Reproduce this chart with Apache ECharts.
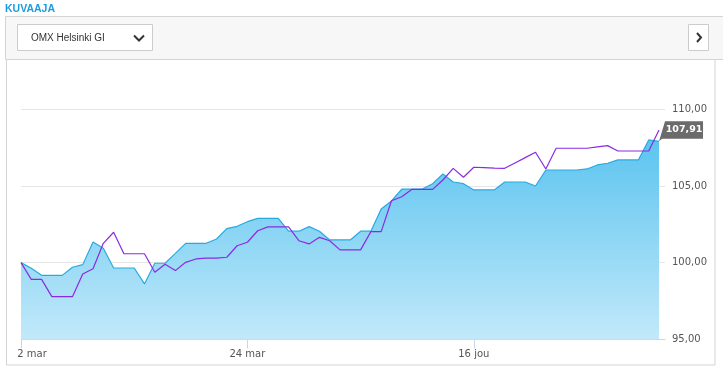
<!DOCTYPE html>
<html>
<head>
<meta charset="utf-8">
<script src="https://cdn.jsdelivr.net/npm/echarts@6/dist/echarts.min.js"></script>
<style>
html,body{margin:0;padding:0;background:#fff;}
#c{width:723px;height:372px;}
</style>
</head>
<body>
<div id="c"></div>
<script>
// ---- data ----
var title = 'KUVAAJA';
var selectorLabel = 'OMX Helsinki GI';
var xTickIndex = [0, 22, 44];
var xTickLabels = ['2 mar', '24 mar', '16 jou'];
var yTicks = [95, 100, 105, 110];
var indexValues = [
  100.0, 99.63, 99.17, 99.17, 99.17, 99.70, 99.87, 101.35, 100.94, 99.65,
  99.65, 99.65, 98.61, 99.96, 99.96, 100.6, 101.26, 101.26, 101.26, 101.54,
  102.22, 102.37, 102.67, 102.89, 102.89, 102.89, 102.05, 102.05, 102.35, 102.05,
  101.48, 101.48, 101.48, 102.05, 102.05, 103.5, 104.02, 104.8, 104.8, 104.8,
  105.15, 105.78, 105.26, 105.15, 104.74, 104.74, 104.74, 105.26, 105.26, 105.26,
  105.0, 106.04, 106.04, 106.04, 106.04, 106.11, 106.37, 106.48, 106.7, 106.7,
  106.7, 108.0, 107.91
];
var compareValues = [
  100.0, 98.91, 98.91, 97.78, 97.78, 97.78, 99.26, 99.6, 101.26, 101.98,
  100.58, 100.58, 100.58, 99.37, 99.89, 99.48, 100.02, 100.24, 100.3, 100.3,
  100.35, 101.1, 101.33, 102.08, 102.33, 102.33, 102.33, 101.43, 101.22, 101.65,
  101.43, 100.83, 100.83, 100.83, 102.02, 102.02, 104.04, 104.3, 104.78, 104.78,
  104.78, 105.39, 106.15, 105.57, 106.22, 106.2, 106.17, 106.15, 106.5, 106.85,
  107.2, 106.11, 107.46, 107.46, 107.46, 107.46, 107.55, 107.63, 107.28, 107.28,
  107.28, 107.28, 108.65
];

function fmt(v) { return v.toFixed(2).replace('.', ','); }
function pairs(arr) { return arr.map(function (v, i) { return [i, v]; }); }

var chart = echarts.init(document.getElementById('c'), null, {renderer: 'canvas'});
var lastIdx = indexValues.length - 1;

var baseGraphics = [
  {type: 'text', z: -5, left: 5, top: 4, style: {text: title, fill: '#1c9de0', font: 'bold 10.5px "Liberation Sans", Arial, sans-serif'}},
  {type: 'rect', z: -10, shape: {x: 5.5, y: 16.5, width: 720, height: 43}, style: {fill: '#f7f7f7', stroke: '#d4d4d4', lineWidth: 1}},
  {type: 'rect', z: -9, shape: {x: 17.5, y: 24.5, width: 135, height: 26}, style: {fill: '#ffffff', stroke: '#cccccc', lineWidth: 1}},
  {type: 'text', z: -8, left: 31, top: 33, style: {text: selectorLabel, fill: '#333333', font: '10px "Liberation Sans", Arial, sans-serif'}},
  {type: 'polyline', z: -8, shape: {points: [[134, 35.5], [139, 40.5], [144, 35.5]]}, style: {stroke: '#333333', lineWidth: 2, fill: null}},
  {type: 'rect', z: -9, shape: {x: 688.5, y: 24.5, width: 20, height: 26}, style: {fill: '#ffffff', stroke: '#cccccc', lineWidth: 1}},
  {type: 'polyline', z: -8, shape: {points: [[697, 33], [701, 37.5], [697, 42]]}, style: {stroke: '#333333', lineWidth: 2, fill: null}},
  {type: 'rect', z: -10, shape: {x: 6.5, y: 59.5, width: 708.5, height: 305.5}, style: {fill: '#ffffff', stroke: '#d4d4d4', lineWidth: 1}}
];

chart.setOption({
  animation: false,
  grid: {left: 21, right: 58, top: 109.3, bottom: 32.7, containLabel: false},
  xAxis: {
    type: 'value',
    min: 0,
    max: 62.58,
    splitLine: {show: false},
    axisLine: {show: true, lineStyle: {color: '#ccd6eb', width: 1}},
    axisTick: {show: true, length: 9, lineStyle: {color: '#ccd6eb'}, customValues: xTickIndex},
    axisLabel: {
      customValues: xTickIndex,
      margin: 10,
      color: '#555555',
      fontFamily: '"DejaVu Sans", Verdana, sans-serif',
      fontSize: 10,
      formatter: function (v) {
        var k = xTickIndex.indexOf(Math.round(v));
        if (k < 0) return '';
        return k === 0 ? '{first|' + xTickLabels[k] + '}' : xTickLabels[k];
      },
      rich: {first: {padding: [0, 0, 0, 22], color: '#555555', fontFamily: '"DejaVu Sans", Verdana, sans-serif', fontSize: 10}}
    }
  },
  yAxis: {
    type: 'value',
    position: 'right',
    min: yTicks[0],
    max: yTicks[yTicks.length - 1],
    interval: 5,
    axisLine: {show: false},
    axisTick: {show: false},
    splitLine: {show: true, lineStyle: {color: '#e6e6e6', width: 1}},
    axisLabel: {
      margin: 7,
      color: '#555555',
      fontFamily: '"DejaVu Sans", Verdana, sans-serif',
      fontSize: 10,
      verticalAlign: 'middle',
      padding: [0, 0, 9, 0],
      formatter: function (v) { return fmt(v); }
    }
  },
  series: [
    {
      name: 'OMX Helsinki GI',
      type: 'line',
      data: pairs(indexValues),
      showSymbol: false,
      symbol: 'none',
      lineStyle: {color: '#2aa9e1', width: 1.2},
      areaStyle: {
        color: new echarts.graphic.LinearGradient(0, 0, 0, 1, [
          {offset: 0, color: '#5cc4ef'},
          {offset: 1, color: '#c2e9fa'}
        ]),
        opacity: 1
      },
      z: 2
    },
    {
      name: 'Vertailu',
      type: 'line',
      data: pairs(compareValues),
      showSymbol: false,
      symbol: 'none',
      lineStyle: {color: '#8a2be2', width: 1.2},
      z: 3
    }
  ],
  graphic: baseGraphics
});

var p = chart.convertToPixel({xAxisIndex: 0, yAxisIndex: 0}, [lastIdx, indexValues[lastIdx]]);
var tx = p[0], ty = p[1];
var tag = {
  type: 'group', z: 100,
  children: [
    {type: 'polygon', z: 100, shape: {points: [[tx, ty], [tx + 6, ty - 20], [tx + 44, ty - 20], [tx + 44, ty - 2.5], [tx + 3, ty - 2.5]]}, style: {fill: '#6b6b6b'}},
    {type: 'text', z: 101, x: tx + 25, y: ty - 11.5, style: {text: fmt(indexValues[lastIdx]), fill: '#ffffff', font: 'bold 9.5px "DejaVu Sans", Verdana, sans-serif', align: 'center', verticalAlign: 'middle'}}
  ]
};
chart.setOption({graphic: baseGraphics.concat([tag])});
</script>
</body>
</html>
